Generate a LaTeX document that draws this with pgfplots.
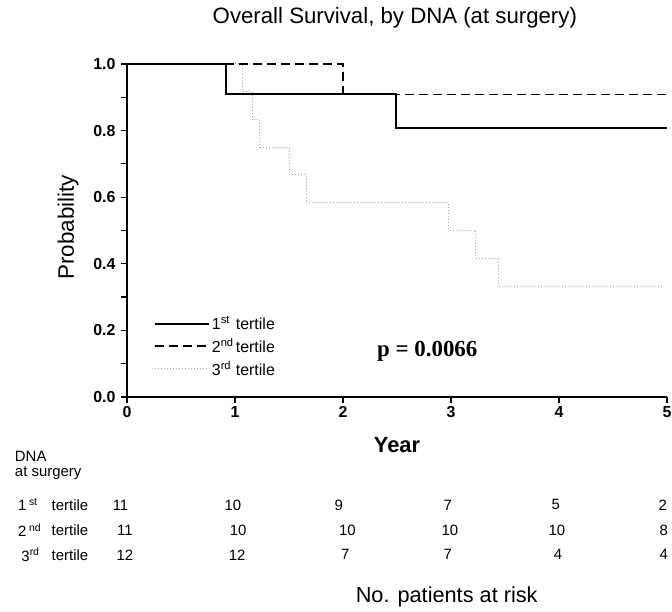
\documentclass[border=0pt]{standalone}
\usepackage{pgfplots}
\pgfplotsset{compat=1.18}
\usepackage{fontspec}
\setmainfont{Liberation Sans}
\newfontfamily\timesfont{Liberation Serif}

\pgfplotstableread{
x y n
-0.06 -0.324 11
0.98 -0.324 10
1.96 -0.324 9
2.97 -0.324 7
3.97 -0.324 5
4.96 -0.324 2
-0.02 -0.399 11
1.03 -0.399 10
2.04 -0.399 10
2.99 -0.399 10
3.98 -0.399 10
4.97 -0.399 8
-0.02 -0.474 12
1.02 -0.474 12
2.02 -0.474 7
2.97 -0.474 7
3.99 -0.474 4
4.97 -0.474 4
}\atrisk

\begin{document}
\begin{tikzpicture}[x=1bp,y=1bp]
\path[use as bounding box] (0,0) rectangle (672,612);
\begin{axis}[
  at={(127bp,215bp)}, anchor=south west,
  scale only axis, width=540bp, height=333bp,
  xmin=0, xmax=5, ymin=0, ymax=1,
  clip=false,
  axis x line=bottom, axis y line=left,
  axis line style={-, line width=1.8bp},
  xtick={0,1,2,3,4,5},
  ytick={0,0.2,0.4,0.6,0.8,1.0},
  minor y tick num=1,
  tick align=outside,
  major tick length=6bp, minor tick length=6bp,
  every tick/.style={black, line width=1.2bp},
  /pgf/number format/assume math mode=true,
  ticklabel style={font=\bfseries\fontsize{16}{19}\selectfont},
  yticklabel style={xshift=-2bp, /pgf/number format/.cd, fixed, fixed zerofill, precision=1},
  xticklabel style={/pgf/number format/.cd, fixed, precision=0},
  legend style={at={(axis cs:0.225,0.255)}, anchor=north west, draw=none, fill=none,
    font=\fontsize{16}{19}\selectfont, row sep=3bp, inner sep=2bp},
  legend cell align=left,
  legend image code/.code={\draw[#1] (0bp,0bp) -- (45bp,0bp); \path (0bp,0bp) -- (54bp,0bp);},
]
\addlegendimage{black, line width=2.4bp}
\addlegendentry{\makebox[24bp][l]{1\textsuperscript{st}}tertile}
\addlegendimage{black, line width=1.4bp, dash pattern=on 9bp off 5bp}
\addlegendentry{\makebox[24bp][l]{2\textsuperscript{nd}}tertile}
\addlegendimage{gray!70, line width=1bp, dash pattern=on 1bp off 2bp}
\addlegendentry{\makebox[24bp][l]{3\textsuperscript{rd}}tertile}

\addplot[forget plot, const plot, gray!70, line width=1bp, dash pattern=on 1bp off 2bp] coordinates {
(0,1) (1.07,0.917) (1.16,0.833) (1.23,0.75) (1.5,0.667) (1.66,0.583) (2.98,0.5) (3.23,0.417) (3.44,0.333) (4.95,0.333)};
\addplot[forget plot, const plot, black, line width=1.4bp, dash pattern=on 9bp off 5bp] coordinates {
(0,1) (2.0,0.909) (5,0.909)};
\addplot[forget plot, const plot, black, line width=2.4bp] coordinates {
(0,1) (0.914,0.909) (2.49,0.808) (5,0.808)};

\addplot[forget plot, draw=none, nodes near coords, point meta=explicit symbolic,
  every node near coord/.style={anchor=center, font=\fontsize{15}{18}\selectfont}]
  table[x=x, y=y, meta=n] {\atrisk};

\node[font=\fontsize{22.3}{27}\selectfont] at (axis cs:2.48,1.138) {Overall Survival, by DNA (at surgery)};
\node[font=\bfseries\fontsize{22}{26}\selectfont] at (axis cs:2.5,-0.144) {Year};
\node[font=\fontsize{22.5}{27}\selectfont, rotate=90] at (axis cs:-0.546,0.51) {Probability};
\node[font=\timesfont\bfseries\fontsize{23}{27}\selectfont] at (axis cs:2.78,0.138) {p = 0.0066};
\node[font=\fontsize{15}{18}\selectfont, anchor=west] at (axis cs:-1.07,-0.177) {DNA};
\node[font=\fontsize{15}{18}\selectfont, anchor=west] at (axis cs:-1.07,-0.23) {at surgery};
\node[font=\fontsize{15}{18}\selectfont, anchor=west] at (axis cs:-1.04,-0.324) {1\,\textsuperscript{st}};
\node[font=\fontsize{15}{18}\selectfont, anchor=west] at (axis cs:-1.04,-0.399) {2\,\textsuperscript{nd}};
\node[font=\fontsize{15}{18}\selectfont, anchor=west] at (axis cs:-1.01,-0.474) {3\textsuperscript{rd}};
\node[font=\fontsize{15}{18}\selectfont, anchor=west] at (axis cs:-0.73,-0.324) {tertile};
\node[font=\fontsize{15}{18}\selectfont, anchor=west] at (axis cs:-0.73,-0.399) {tertile};
\node[font=\fontsize{15}{18}\selectfont, anchor=west] at (axis cs:-0.73,-0.474) {tertile};
\node[font=\fontsize{21.8}{26}\selectfont] at (axis cs:2.96,-0.601) {No. patients at risk};
\end{axis}
\end{tikzpicture}
\end{document}
